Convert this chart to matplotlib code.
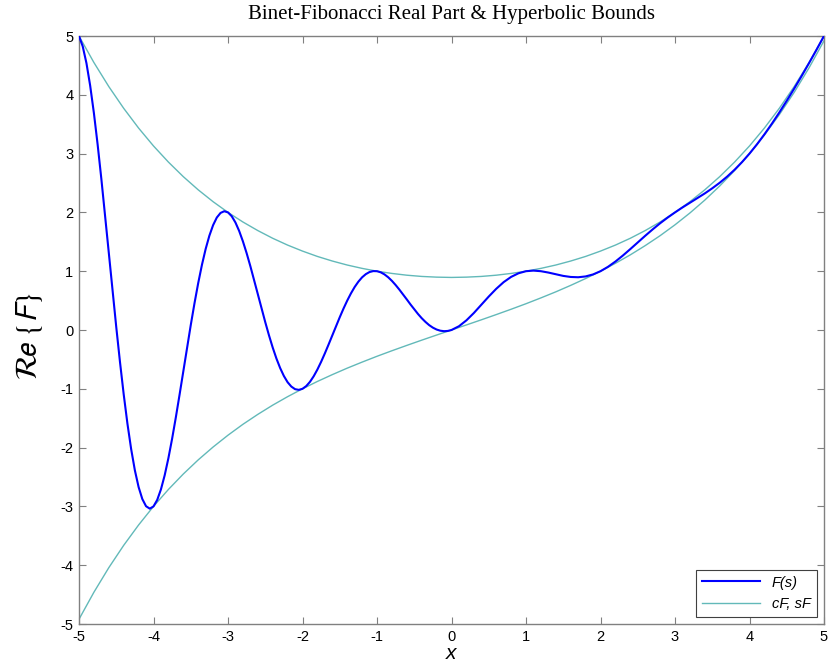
import matplotlib
matplotlib.use("Agg")
from matplotlib import pyplot as plt

# F(s) real part: steps of 0.05 on the left half, 0.1 on the right
x_f = [-5.0, -4.95, -4.9, -4.85, -4.8, -4.75, -4.7, -4.65, -4.6, -4.55,
       -4.5, -4.45, -4.4, -4.35, -4.3, -4.25, -4.2, -4.15, -4.1, -4.05,
       -4.0, -3.95, -3.9, -3.85, -3.8, -3.75, -3.7, -3.65, -3.6, -3.55,
       -3.5, -3.45, -3.4, -3.35, -3.3, -3.25, -3.2, -3.15, -3.1, -3.05,
       -3.0, -2.95, -2.9, -2.85, -2.8, -2.75, -2.7, -2.65, -2.6, -2.55,
       -2.5, -2.45, -2.4, -2.35, -2.3, -2.25, -2.2, -2.15, -2.1, -2.05,
       -2.0, -1.95, -1.9, -1.85, -1.8, -1.75, -1.7, -1.65, -1.6, -1.55,
       -1.5, -1.45, -1.4, -1.35, -1.3, -1.25, -1.2, -1.15, -1.1, -1.05,
       -1.0, -0.95, -0.9, -0.85, -0.8, -0.75, -0.7, -0.65, -0.6, -0.55,
       -0.5, -0.45, -0.4, -0.35, -0.3, -0.25, -0.2, -0.15, -0.1, -0.05,
       0.0, 0.1, 0.2, 0.3, 0.4, 0.5, 0.6, 0.7, 0.8, 0.9,
       1.0, 1.1, 1.2, 1.3, 1.4, 1.5, 1.6, 1.7, 1.8, 1.9,
       2.0, 2.1, 2.2, 2.3, 2.4, 2.5, 2.6, 2.7, 2.8, 2.9,
       3.0, 3.1, 3.2, 3.3, 3.4, 3.5, 3.6, 3.7, 3.8, 3.9,
       4.0, 4.1, 4.2, 4.3, 4.4, 4.5, 4.6, 4.7, 4.8, 4.9, 5.0]
f_re = [5.000, 4.823, 4.538, 4.155, 3.689, 3.155, 2.570, 1.950, 1.313, 0.675,
        0.051, -0.543, -1.094, -1.592, -2.025, -2.387, -2.671, -2.875, -2.997, -3.038,
        -3.000, -2.889, -2.710, -2.471, -2.180, -1.848, -1.484, -1.099, -0.702, -0.305,
        0.083, 0.453, 0.797, 1.107, 1.378, 1.604, 1.783, 1.913, 1.991, 2.020,
        2.000, 1.935, 1.828, 1.684, 1.508, 1.307, 1.086, 0.852, 0.611, 0.370,
        0.134, -0.090, -0.298, -0.485, -0.647, -0.782, -0.888, -0.962, -1.006, -1.018,
        -1.000, -0.954, -0.882, -0.787, -0.672, -0.541, -0.398, -0.247, -0.091, 0.065,
        0.217, 0.363, 0.499, 0.622, 0.731, 0.822, 0.896, 0.950, 0.986, 1.002,
        1.000, 0.981, 0.946, 0.897, 0.836, 0.765, 0.687, 0.605, 0.520, 0.434,
        0.352, 0.273, 0.201, 0.138, 0.083, 0.040, 0.008, -0.012, -0.020, -0.016,
        0.000, 0.064, 0.164, 0.289, 0.428, 0.569, 0.700, 0.814, 0.903, 0.965,
        1.000, 1.010, 1.000, 0.977, 0.948, 0.920, 0.902, 0.897, 0.911, 0.945,
        1.000, 1.074, 1.164, 1.266, 1.376, 1.489, 1.602, 1.711, 1.815, 1.911,
        2.000, 2.084, 2.163, 2.242, 2.323, 2.410, 2.504, 2.609, 2.726, 2.856,
        3.000, 3.157, 3.327, 3.508, 3.699, 3.899, 4.106, 4.320, 4.541, 4.767, 5.000]

# hyperbolic bounds cF (upper) and sF (lower), steps of 0.2
x_b = [-5.0, -4.8, -4.6, -4.4, -4.2, -4.0, -3.8, -3.6, -3.4, -3.2,
       -3.0, -2.8, -2.6, -2.4, -2.2, -2.0, -1.8, -1.6, -1.4, -1.2,
       -1.0, -0.8, -0.6, -0.4, -0.2, 0.0, 0.2, 0.4, 0.6, 0.8,
       1.0, 1.2, 1.4, 1.6, 1.8, 2.0, 2.2, 2.4, 2.6, 2.8,
       3.0, 3.2, 3.4, 3.6, 3.8, 4.0, 4.2, 4.4, 4.6, 4.8, 5.0]
cf = [5.000, 4.549, 4.140, 3.770, 3.434, 3.130, 2.856, 2.608, 2.384, 2.182,
      2.000, 1.837, 1.691, 1.560, 1.444, 1.342, 1.251, 1.173, 1.105, 1.048,
      1.000, 0.962, 0.932, 0.911, 0.899, 0.894, 0.899, 0.911, 0.932, 0.962,
      1.000, 1.048, 1.105, 1.173, 1.251, 1.342, 1.444, 1.560, 1.691, 1.837,
      2.000, 2.182, 2.384, 2.608, 2.856, 3.130, 3.434, 3.770, 4.140, 4.549, 5.000]
sf = [-4.919, -4.460, -4.042, -3.662, -3.316, -3.000, -2.712, -2.449, -2.209, -1.990,
      -1.789, -1.604, -1.435, -1.278, -1.134, -1.000, -0.875, -0.759, -0.649, -0.546,
      -0.447, -0.353, -0.262, -0.173, -0.086, 0.000, 0.086, 0.173, 0.262, 0.353,
      0.447, 0.546, 0.649, 0.759, 0.875, 1.000, 1.134, 1.278, 1.435, 1.604,
      1.789, 1.990, 2.209, 2.449, 2.712, 3.000, 3.316, 3.662, 4.042, 4.460, 4.919]

ticks = [-5, -4, -3, -2, -1, 0, 1, 2, 3, 4, 5]

plt.rcParams['font.family'] = ['Liberation Sans', 'DejaVu Sans']
plt.rcParams['axes.unicode_minus'] = False

fig = plt.figure(figsize=(8.33, 6.71), dpi=100)
ax = fig.add_axes([79/833, 47/671, 745/833, 588/671])

teal = '#62b9b9'
ax.plot(x_f, f_re, color='#0000ff', lw=1.5, label='F(s)', zorder=3)
ax.plot(x_b, cf, color=teal, lw=1.0, label='cF, sF', zorder=2)
ax.plot(x_b, sf, color=teal, lw=1.0, zorder=2)

ax.set_xlim(-5, 5)
ax.set_ylim(-5, 5)
ax.set_xticks(ticks)
ax.set_yticks(ticks)
ax.tick_params(direction='in', length=5, width=0.8, color='#808080',
               top=True, right=True, labelsize=10.5, pad=4)
for s in ax.spines.values():
    s.set_color('#808080')
    s.set_linewidth(1.0)

ax.set_title('Binet-Fibonacci Real Part & Hyperbolic Bounds',
             family='Liberation Serif', fontsize=15, pad=12)
ax.set_xlabel('x', fontsize=15, style='italic', labelpad=0)
ax.set_ylabel(r'$\mathcal{R}\!e\ \{F\}$', fontsize=22, math_fontfamily='stixsans')
ax.yaxis.set_label_coords(-0.045, 0.49)

leg = ax.legend(loc='lower right', handlelength=4.0,
                fancybox=False, framealpha=1, borderaxespad=0.5,
                prop={'style': 'italic', 'size': 10.5})
leg.get_frame().set_edgecolor('#404040')
leg.get_frame().set_linewidth(0.8)

fig.savefig('out.png', dpi=100)
